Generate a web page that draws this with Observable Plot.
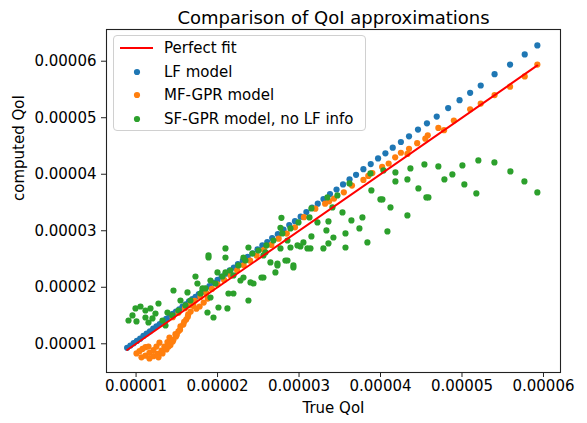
<!DOCTYPE html>
<html>
<head>
<meta charset="utf-8">
<script src="https://cdn.jsdelivr.net/npm/d3@7"></script>
<script src="https://cdn.jsdelivr.net/npm/@observablehq/plot@0.6"></script>
<style>
  html, body { margin: 0; padding: 0; background: #fff; }
  #wrap { position: relative; width: 587px; height: 423px; font-family: "DejaVu Sans", sans-serif; }
  #legend { position: absolute; left: 113px; top: 35px; width: 251px; height: 94px;
            border: 1px solid #d0d0d0; border-radius: 4px; background: rgba(255,255,255,0.8);
            font-size: 15px; color: #000; }
  .row { position: absolute; left: 0; height: 20px; width: 250px; }
  .row svg { position: absolute; left: 5px; top: 0; }
  .row span { position: absolute; left: 50px; top: 0; line-height: 20px; white-space: nowrap; }
</style>
</head>
<body>
<div id="wrap"></div>
<script>
// Series labels
const seriesNames = ["Perfect fit", "LF model", "MF-GPR model", "SF-GPR model, no LF info"];
const seriesColors = ["red", "#1f77b4", "#ff7f0e", "#2ca02c"];

// Tick values
const xTicks = [1e-5, 2e-5, 3e-5, 4e-5, 5e-5, 6e-5];
const yTicks = [1e-5, 2e-5, 3e-5, 4e-5, 5e-5, 6e-5];

// LF model: true QoI vs computed QoI
const lfTrue = [0.89e-5,0.93e-5,0.97e-5,1.01e-5,1.05e-5,1.09e-5,1.13e-5,1.17e-5,1.21e-5,1.25e-5,1.29e-5,1.33e-5,1.37e-5,1.41e-5,1.45e-5,1.49e-5,1.53e-5,1.57e-5,1.61e-5,1.65e-5,1.69e-5,1.73e-5,1.77e-5,1.81e-5,1.85e-5,1.90e-5,1.95e-5,2.00e-5,2.05e-5,2.10e-5,2.15e-5,2.20e-5,2.25e-5,2.31e-5,2.37e-5,2.43e-5,2.49e-5,2.55e-5,2.61e-5,2.67e-5,2.74e-5,2.81e-5,2.88e-5,2.95e-5,3.02e-5,3.09e-5,3.16e-5,3.23e-5,3.30e-5,3.38e-5,3.46e-5,3.54e-5,3.62e-5,3.70e-5,3.79e-5,3.88e-5,3.97e-5,4.06e-5,4.15e-5,4.25e-5,4.35e-5,4.46e-5,4.57e-5,4.69e-5,4.83e-5,4.97e-5,5.10e-5,5.23e-5,5.40e-5,5.59e-5,5.77e-5,5.925e-5];
const lfComputed = [0.93e-5,0.97e-5,1.01e-5,1.05e-5,1.09e-5,1.14e-5,1.18e-5,1.22e-5,1.27e-5,1.31e-5,1.35e-5,1.40e-5,1.44e-5,1.48e-5,1.53e-5,1.57e-5,1.61e-5,1.66e-5,1.70e-5,1.75e-5,1.79e-5,1.83e-5,1.88e-5,1.92e-5,1.97e-5,2.02e-5,2.08e-5,2.13e-5,2.19e-5,2.24e-5,2.30e-5,2.35e-5,2.41e-5,2.47e-5,2.54e-5,2.60e-5,2.67e-5,2.74e-5,2.80e-5,2.87e-5,2.94e-5,3.02e-5,3.10e-5,3.17e-5,3.25e-5,3.33e-5,3.41e-5,3.48e-5,3.56e-5,3.65e-5,3.73e-5,3.82e-5,3.91e-5,3.99e-5,4.09e-5,4.18e-5,4.28e-5,4.37e-5,4.47e-5,4.57e-5,4.67e-5,4.79e-5,4.90e-5,5.02e-5,5.17e-5,5.31e-5,5.44e-5,5.57e-5,5.77e-5,5.94e-5,6.12e-5,6.28e-5];

// MF-GPR model
const mfTrue = [5.925e-5,5.77e-5,5.59e-5,5.40e-5,5.23e-5,5.10e-5,4.90e-5,4.78e-5,4.71e-5,4.58e-5,4.55e-5,4.45e-5,4.35e-5,4.33e-5,4.25e-5,4.18e-5,4.10e-5,4.02e-5,3.90e-5,3.85e-5,3.79e-5,3.65e-5,3.55e-5,3.43e-5,3.37e-5,3.32e-5,3.20e-5,3.06e-5,2.95e-5,2.85e-5,2.75e-5,2.66e-5,2.57e-5,2.48e-5,2.40e-5,2.32e-5,2.24e-5,2.16e-5,2.08e-5,2.00e-5,1.93e-5,1.86e-5,1.79e-5,1.72e-5,1.66e-5,1.60e-5,1.52e-5,1.45e-5,
  1.005e-5,1.042e-5,1.079e-5,1.115e-5,1.152e-5,
  1.066e-5,1.115e-5,1.164e-5,1.213e-5,1.250e-5,1.287e-5,
  1.164e-5,1.213e-5,1.263e-5,1.312e-5,1.348e-5,1.385e-5,1.410e-5,
  1.275e-5,1.324e-5,1.373e-5,1.422e-5,1.459e-5,1.483e-5,
  1.400e-5,1.450e-5,1.490e-5,1.520e-5,1.545e-5,
  1.500e-5,1.540e-5,1.580e-5,1.615e-5,1.640e-5,
  1.590e-5,1.635e-5,1.670e-5,1.704e-5,
  1.740e-5,1.780e-5,1.830e-5,1.880e-5];
const mfComputed = [5.94e-5,5.73e-5,5.55e-5,5.40e-5,5.25e-5,5.15e-5,4.95e-5,4.78e-5,4.82e-5,4.69e-5,4.63e-5,4.55e-5,4.45e-5,4.36e-5,4.38e-5,4.30e-5,4.19e-5,4.13e-5,4.02e-5,3.97e-5,3.90e-5,3.80e-5,3.68e-5,3.57e-5,3.52e-5,3.48e-5,3.39e-5,3.24e-5,3.06e-5,2.95e-5,2.86e-5,2.75e-5,2.66e-5,2.56e-5,2.47e-5,2.39e-5,2.30e-5,2.21e-5,2.13e-5,2.05e-5,1.97e-5,1.90e-5,1.83e-5,1.76e-5,1.69e-5,1.63e-5,1.55e-5,1.47e-5,
  0.83e-5,0.87e-5,0.91e-5,0.94e-5,0.95e-5,
  0.76e-5,0.79e-5,0.84e-5,0.89e-5,0.95e-5,1.02e-5,
  0.74e-5,0.78e-5,0.82e-5,0.88e-5,0.95e-5,1.03e-5,1.11e-5,
  0.76e-5,0.83e-5,0.90e-5,0.98e-5,1.07e-5,1.17e-5,
  0.95e-5,1.04e-5,1.13e-5,1.22e-5,1.31e-5,
  1.16e-5,1.25e-5,1.34e-5,1.43e-5,1.52e-5,
  1.39e-5,1.48e-5,1.57e-5,1.67e-5,
  1.62e-5,1.66e-5,1.73e-5,1.80e-5];

// SF-GPR model, no LF info
const sfTrue = [0.907e-5,0.956e-5,0.993e-5,1.054e-5,1.005e-5,1.115e-5,1.177e-5,1.115e-5,1.201e-5,1.275e-5,1.324e-5,1.385e-5,1.447e-5,1.459e-5,1.545e-5,1.606e-5,1.631e-5,1.729e-5,1.753e-5,1.889e-5,1.913e-5,1.950e-5,2.011e-5,2.097e-5,2.121e-5,2.195e-5,2.281e-5,2.379e-5,2.441e-5,2.563e-5,2.710e-5,2.735e-5,2.772e-5,2.833e-5,2.858e-5,2.895e-5,2.931e-5,2.379e-5,2.318e-5,2.195e-5,1.999e-5,1.913e-5,1.815e-5,2.404e-5,2.318e-5,2.134e-5,1.876e-5,2.649e-5,2.735e-5,2.858e-5,2.588e-5,2.563e-5,2.097e-5,2.097e-5,1.889e-5,2.784e-5,2.772e-5,2.539e-5,2.931e-5,1.361e-5,1.520e-5,1.667e-5,1.790e-5,1.851e-5,1.974e-5,2.060e-5,2.158e-5,2.256e-5,2.342e-5,2.428e-5,2.502e-5,2.600e-5,2.686e-5,2.796e-5,2.895e-5,2.993e-5,3.017e-5,2.981e-5,3.054e-5,3.103e-5,3.140e-5,3.128e-5,3.152e-5,3.152e-5,3.226e-5,3.299e-5,3.336e-5,3.361e-5,3.361e-5,3.348e-5,3.410e-5,3.422e-5,3.471e-5,3.533e-5,3.570e-5,3.570e-5,3.619e-5,3.643e-5,3.741e-5,3.778e-5,3.839e-5,3.876e-5,3.888e-5,3.999e-5,4.023e-5,4.036e-5,4.085e-5,4.122e-5,4.183e-5,4.183e-5,4.330e-5,4.330e-5,4.367e-5,4.465e-5,4.539e-5,4.563e-5,4.588e-5,4.710e-5,4.784e-5,4.882e-5,5.005e-5,5.029e-5,5.176e-5,5.201e-5,5.398e-5,5.594e-5,5.766e-5,5.925e-5,1.238e-5,1.152e-5];
const sfComputed = [1.412e-5,1.501e-5,1.625e-5,1.660e-5,1.395e-5,1.589e-5,1.625e-5,1.465e-5,1.448e-5,1.713e-5,1.412e-5,1.554e-5,1.501e-5,1.943e-5,1.766e-5,1.678e-5,1.908e-5,2.191e-5,2.067e-5,2.527e-5,1.819e-5,1.465e-5,1.642e-5,2.262e-5,1.625e-5,1.890e-5,2.120e-5,1.766e-5,2.067e-5,2.173e-5,2.262e-5,2.386e-5,2.687e-5,2.474e-5,2.828e-5,2.704e-5,2.386e-5,2.704e-5,2.527e-5,2.209e-5,2.262e-5,2.120e-5,1.979e-5,2.085e-5,2.173e-5,1.890e-5,1.554e-5,2.439e-5,2.421e-5,2.474e-5,2.616e-5,2.563e-5,2.687e-5,2.527e-5,2.563e-5,3.228e-5,3.051e-5,2.173e-5,2.350e-5,1.324e-5,1.589e-5,1.766e-5,1.890e-5,1.979e-5,2.067e-5,2.191e-5,2.297e-5,2.386e-5,2.474e-5,2.598e-5,2.651e-5,2.740e-5,2.828e-5,2.952e-5,3.041e-5,3.147e-5,2.722e-5,2.740e-5,2.793e-5,2.687e-5,2.687e-5,3.236e-5,2.899e-5,3.395e-5,3.147e-5,2.687e-5,3.006e-5,2.775e-5,3.165e-5,3.589e-5,3.412e-5,2.881e-5,3.625e-5,3.324e-5,2.952e-5,2.704e-5,3.837e-5,3.182e-5,3.041e-5,3.236e-5,2.793e-5,4.014e-5,3.713e-5,3.554e-5,3.554e-5,4.067e-5,2.988e-5,3.412e-5,4.032e-5,3.873e-5,3.908e-5,3.271e-5,4.103e-5,3.749e-5,4.174e-5,3.589e-5,3.589e-5,4.138e-5,3.908e-5,3.997e-5,4.156e-5,3.820e-5,3.660e-5,4.244e-5,4.209e-5,4.050e-5,3.873e-5,3.678e-5,1.536e-5,1.377e-5];

const toRows = (xs, ys) => xs.map((x, i) => ({x, y: ys[i]}));
const lfData = toRows(lfTrue, lfComputed);
const mfData = toRows(mfTrue, mfComputed);
const sfData = toRows(sfTrue, sfComputed);
const ext = d3.extent(lfTrue);
const perfect = [{x: ext[0], y: ext[0]}, {x: ext[1], y: ext[1]}];

const fmt = d3.format(".5f");
const R = 3.1;

const chart = Plot.plot({
  width: 587,
  height: 423,
  marginLeft: 106,
  marginRight: 27,
  marginTop: 29,
  marginBottom: 51,
  style: {fontFamily: "DejaVu Sans", fontSize: "15px", color: "#000", background: "#fff"},
  x: {domain: [0.637e-5, 6.209e-5]},
  y: {domain: [0.492e-5, 6.561e-5]},
  marks: [
    Plot.axisX({ticks: xTicks, tickFormat: fmt, tickSize: 5, tickPadding: 3, label: null, fontSize: 15, stroke: "#222"}),
    Plot.axisY({ticks: yTicks, tickFormat: fmt, tickSize: 5, tickPadding: 5, label: null, fontSize: 15, stroke: "#222"}),
    Plot.dot(lfData, {x: "x", y: "y", r: R, fill: seriesColors[1], stroke: "none"}),
    Plot.dot(mfData, {x: "x", y: "y", r: R, fill: seriesColors[2], stroke: "none"}),
    Plot.dot(sfData, {x: "x", y: "y", r: R, fill: seriesColors[3], stroke: "none"}),
    Plot.line(perfect, {x: "x", y: "y", stroke: seriesColors[0], strokeWidth: 2}),
    Plot.frame({stroke: "#222", strokeWidth: 1.1}),
    Plot.text(["Comparison of QoI approximations"], {frameAnchor: "top", lineAnchor: "bottom", dy: -6, fontSize: 18, fill: "#000"}),
    Plot.text(["True QoI"], {frameAnchor: "bottom", lineAnchor: "top", dy: 30, fontSize: 15, fill: "#000"}),
    Plot.text(["computed QoI"], {frameAnchor: "left", lineAnchor: "middle", rotate: -90, dx: -87, fontSize: 15, fill: "#000"})
  ]
});

const wrap = document.getElementById("wrap");
wrap.appendChild(chart);

// Legend
const legend = document.createElement("div");
legend.id = "legend";
const rowTops = [2, 26, 49, 73];
seriesNames.forEach((name, i) => {
  const row = document.createElement("div");
  row.className = "row";
  row.style.top = rowTops[i] + "px";
  const sw = i === 0
    ? `<svg width="36" height="20"><line x1="1" x2="34" y1="10" y2="10" stroke="${seriesColors[i]}" stroke-width="2"/></svg>`
    : `<svg width="36" height="20"><circle cx="18" cy="10" r="${R}" fill="${seriesColors[i]}"/></svg>`;
  row.innerHTML = sw + `<span>${name}</span>`;
  legend.appendChild(row);
});
wrap.appendChild(legend);
</script>
</body>
</html>
